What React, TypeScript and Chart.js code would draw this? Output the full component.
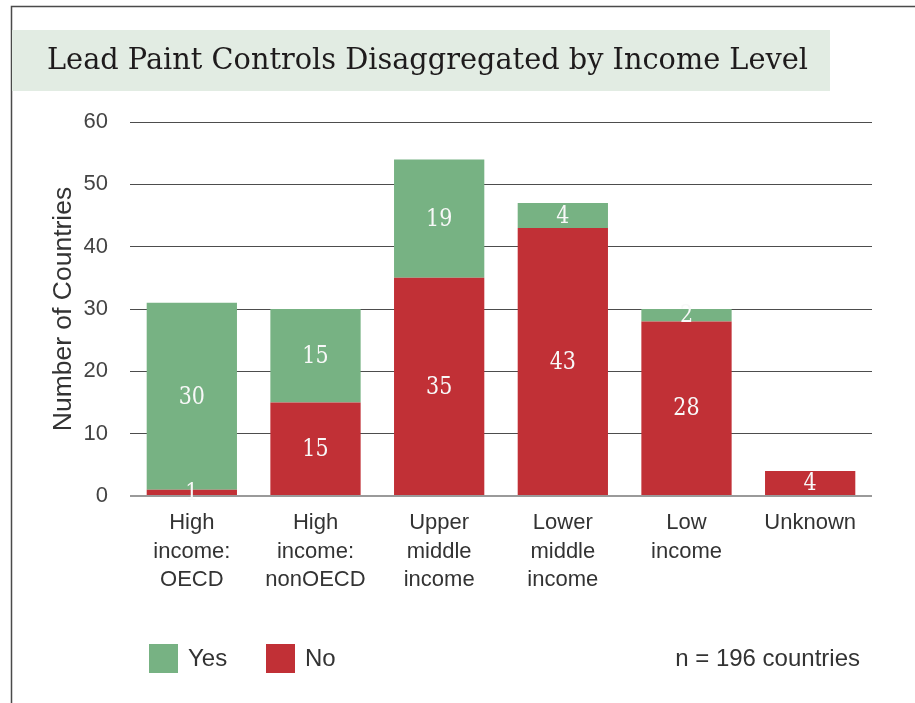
import React, { useEffect, useRef } from 'react';
import { Chart, registerables } from 'chart.js';

Chart.register(...registerables);

const chartTitle = 'Lead Paint Controls Disaggregated by Income Level';
const yAxisTitle = 'Number of Countries';
const noteText = 'n = 196 countries';
const categories: string[][] = [
  ['High', 'income:', 'OECD'],
  ['High', 'income:', 'nonOECD'],
  ['Upper', 'middle', 'income'],
  ['Lower', 'middle', 'income'],
  ['Low', 'income'],
  ['Unknown'],
];
const noValues = [1, 15, 35, 43, 28, 4];
const yesValues = [30, 15, 19, 4, 2, 0];
const seriesNames = ['No', 'Yes'];
const legendOrder = ['Yes', 'No'];
const yMax = 60;
const yStep = 10;

const GREEN = '#77b283';
const RED = '#c13036';
const SANS = '"Liberation Sans", Arial, sans-serif';
const SERIF = '"DejaVu Serif", serif';

const decorPlugin = {
  id: 'decor',
  beforeDraw(chart: any) {
    const ctx = chart.ctx as CanvasRenderingContext2D;
    ctx.save();
    ctx.fillStyle = '#ffffff';
    ctx.fillRect(0, 0, chart.width, chart.height);
    // frame
    ctx.strokeStyle = '#4a4a4a';
    ctx.lineWidth = 1.5;
    ctx.beginPath();
    ctx.moveTo(11.5, chart.height);
    ctx.lineTo(11.5, 6.5);
    ctx.lineTo(chart.width, 6.5);
    ctx.stroke();
    // title band
    ctx.fillStyle = '#e2ece3';
    ctx.fillRect(12, 30, 818, 61);
    ctx.font = `29px ${SERIF}`;
    const w = ctx.measureText(chartTitle).width;
    const sx = 761 / w;
    ctx.translate(47, 69);
    ctx.scale(sx, 1);
    ctx.fillStyle = '#1e1b1c';
    ctx.textBaseline = 'alphabetic';
    ctx.textAlign = 'left';
    ctx.fillText(chartTitle, 0, 0);
    ctx.restore();
  },
  afterDatasetsDraw(chart: any) {
    const ctx = chart.ctx as CanvasRenderingContext2D;
    ctx.save();
    ctx.font = `24px ${SERIF}`;
    ctx.fillStyle = '#f8f8f8';
    ctx.textAlign = 'center';
    ctx.textBaseline = 'middle';
    chart.data.datasets.forEach((ds: any, di: number) => {
      const meta = chart.getDatasetMeta(di);
      meta.data.forEach((el: any, i: number) => {
        const v = ds.data[i];
        if (!v) return;
        const cy = (el.y + el.base) / 2;
        ctx.save();
        ctx.translate(el.x, cy + 1);
        ctx.scale(0.86, 1);
        ctx.fillText(String(v), 0, 0);
        ctx.restore();
      });
    });
    ctx.restore();
  },
  afterDraw(chart: any) {
    const ctx = chart.ctx as CanvasRenderingContext2D;
    ctx.save();
    ctx.font = `24px ${SANS}`;
    ctx.textBaseline = 'middle';
    ctx.textAlign = 'left';
    const positions = [149, 266];
    legendOrder.forEach((name, k) => {
      const di = chart.data.datasets.findIndex((d: any) => d.label === name);
      const ds = chart.data.datasets[di];
      ctx.fillStyle = ds.backgroundColor;
      ctx.fillRect(positions[k], 644, 29, 29);
      ctx.fillStyle = '#333333';
      ctx.fillText(name, positions[k] + 39, 659);
    });
    ctx.textAlign = 'right';
    ctx.fillText(noteText, 860, 659);
    ctx.restore();
  },
};

export default function App() {
  const ref = useRef<HTMLCanvasElement | null>(null);
  useEffect(() => {
    if (!ref.current) return;
    const chart = new Chart(ref.current, {
      type: 'bar',
      data: {
        labels: categories,
        datasets: [
          { label: seriesNames[0], data: noValues, backgroundColor: RED, barPercentage: 0.73, categoryPercentage: 1 },
          { label: seriesNames[1], data: yesValues, backgroundColor: GREEN, barPercentage: 0.73, categoryPercentage: 1 },
        ],
      },
      options: {
        animation: false,
        responsive: false,
        maintainAspectRatio: false,
        devicePixelRatio: 1,
        layout: { padding: { left: 0, top: 122, right: 43, bottom: 0 } },
        plugins: {
          legend: { display: false },
          tooltip: { enabled: false },
          title: { display: false },
        },
        scales: {
          x: {
            stacked: true,
            grid: { display: false },
            border: { display: false },
            ticks: {
              color: '#333333',
              font: { family: SANS, size: 22, lineHeight: 1.29 },
              padding: 5,
              maxRotation: 0,
              autoSkip: false,
            },
            afterFit: (s: any) => { s.height = 207; },
          },
          y: {
            stacked: true,
            min: 0,
            max: yMax,
            border: { display: false },
            grid: {
              drawTicks: false,
              color: (c: any) => (c.tick && c.tick.value === 0 ? '#9a9a9a' : '#4d4d4d'),
              lineWidth: (c: any) => (c.tick && c.tick.value === 0 ? 2 : 1),
            },
            ticks: {
              stepSize: yStep,
              color: '#444444',
              font: { family: SANS, size: 22 },
              padding: 22,
            },
            title: {
              display: true,
              text: yAxisTitle,
              color: '#333333',
              font: { family: SANS, size: 26.5, lineHeight: 1.2 },
              padding: { top: 48, bottom: 0 },
            },
            afterFit: (s: any) => { s.width = 130; },
          },
        },
      },
      plugins: [decorPlugin],
    });
    return () => chart.destroy();
  }, []);
  return (
    <div style={{ position: 'absolute', left: 0, top: 0, width: 915, height: 703, background: '#fff' }}>
      <canvas ref={ref} width={915} height={703} style={{ display: 'block', width: 915, height: 703 }} />
    </div>
  );
}
